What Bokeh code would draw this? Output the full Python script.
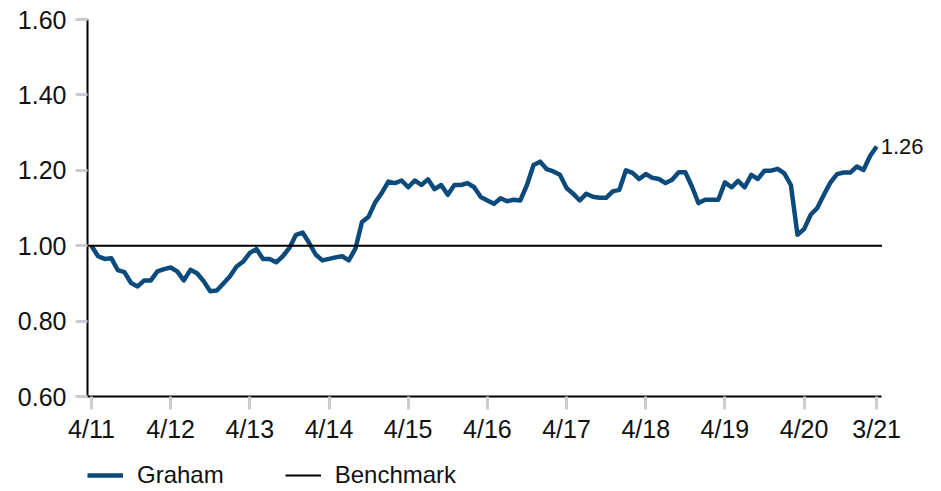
from bokeh.plotting import figure
from bokeh.layouts import column
from bokeh.models import (Range1d, FixedTicker, Legend, LegendItem, ColumnDataSource)
from bokeh.core.properties import value
from bokeh.embed import file_html
from bokeh.resources import INLINE

# ---- data ----
graham = [
    1.000, 0.972, 0.965, 0.967, 0.935, 0.930, 0.901, 0.892, 0.908, 0.908, 0.932, 0.938,
    0.942, 0.932, 0.908, 0.936, 0.927, 0.906, 0.879, 0.881, 0.900, 0.919, 0.945, 0.958,
    0.981, 0.991, 0.965, 0.965, 0.956, 0.972, 0.994, 1.029, 1.035, 1.007, 0.976, 0.961,
    0.965, 0.969, 0.972, 0.961, 0.992, 1.063, 1.077, 1.115, 1.140, 1.170, 1.166, 1.173,
    1.155, 1.173, 1.161, 1.176, 1.150, 1.161, 1.135, 1.161, 1.161, 1.166, 1.155, 1.129,
    1.120, 1.111, 1.126, 1.118, 1.122, 1.120, 1.161, 1.214, 1.223, 1.203, 1.197, 1.188,
    1.153, 1.138, 1.120, 1.138, 1.130, 1.127, 1.127, 1.144, 1.148, 1.200, 1.193, 1.177,
    1.190, 1.180, 1.177, 1.166, 1.175, 1.195, 1.195, 1.157, 1.113, 1.122, 1.122, 1.122,
    1.168, 1.155, 1.172, 1.155, 1.188, 1.177, 1.199, 1.199, 1.204, 1.192, 1.161, 1.029,
    1.044, 1.082, 1.100, 1.135, 1.168, 1.190, 1.194, 1.194, 1.210, 1.201, 1.238, 1.263,
]
months = list(range(len(graham)))
benchmark_value = 1.0
tick_labels = ["4/11", "4/12", "4/13", "4/14", "4/15", "4/16", "4/17", "4/18", "4/19", "4/20", "3/21"]
tick_months = [0, 12, 24, 36, 48, 60, 72, 84, 96, 108, 119]
y_ticks = [0.6, 0.8, 1.0, 1.2, 1.4, 1.6]
end_label = "1.26"
series_names = ["Graham", "Benchmark"]

FONT = "Liberation Sans"
BLUE = "#0c4a7b"
TICK_GRAY = "#c9cdd1"
TXT = "#111111"

x_start, x_axis_end, x_end = -0.6, 119.8, 126.4

p = figure(width=930, height=445, output_backend="svg", toolbar_location=None,
           x_range=Range1d(x_start, x_end), y_range=Range1d(0.6, 1.6),
           min_border_left=87, min_border_right=5, min_border_top=19, min_border_bottom=48)
p.grid.visible = False
p.outline_line_color = None
p.background_fill_color = "white"

src = ColumnDataSource(dict(x=months, y=graham))
r_g = p.line("x", "y", source=src, line_color=BLUE, line_width=4.5, line_join="round")
r_b = p.line([x_start, x_axis_end], [benchmark_value, benchmark_value],
             line_color="black", line_width=2)

# end value label
p.text(x=[months[-1]], y=[graham[-1]], text=[end_label], x_offset=4,
       text_font=value(FONT), text_font_size="22px", text_baseline="middle",
       text_color=TXT)

# axes
xa = p.xaxis[0]
xa.bounds = (x_start, x_axis_end)
xa.ticker = FixedTicker(ticks=tick_months)
xa.major_label_overrides = {m: l for m, l in zip(tick_months, tick_labels)}
xa.axis_line_color = "black"
xa.axis_line_width = 2
xa.major_tick_line_color = TICK_GRAY
xa.major_tick_line_width = 3
xa.major_tick_out = 13
xa.major_tick_in = 0
xa.minor_tick_line_color = None
xa.major_label_text_font = FONT
xa.major_label_text_font_size = "25px"
xa.major_label_text_color = TXT
xa.major_label_standoff = 5

ya = p.yaxis[0]
ya.ticker = FixedTicker(ticks=y_ticks)
ya.major_label_overrides = {t: f"{t:.2f}" for t in y_ticks}
ya.axis_line_color = "black"
ya.axis_line_width = 2
ya.major_tick_line_color = TICK_GRAY
ya.major_tick_line_width = 3
ya.major_tick_out = 12
ya.major_tick_in = 0
ya.minor_tick_line_color = None
ya.major_label_text_font = FONT
ya.major_label_text_font_size = "25px"
ya.major_label_text_color = TXT
ya.major_label_standoff = 9

# legend strip below the chart (dummy renderers kept outside the strip's ranges)
q = figure(width=930, height=45, output_backend="svg", toolbar_location=None,
           x_range=Range1d(0, 1), y_range=Range1d(0, 1),
           x_axis_location=None, y_axis_location=None,
           min_border_left=87, min_border_right=0, min_border_top=15, min_border_bottom=0)
q.grid.visible = False
q.outline_line_color = None
lg_g = q.line(x=[5, 6], y=[5, 5], line_color=BLUE, line_width=4.5)
lg_b = q.line(x=[5, 6], y=[5, 5], line_color="black", line_width=2)
legend = Legend(items=[LegendItem(label=series_names[0], renderers=[lg_g]),
                       LegendItem(label=series_names[1], renderers=[lg_b])],
                orientation="horizontal", location="left",
                margin=0, padding=0, spacing=61, glyph_width=36, glyph_height=30,
                label_standoff=14, border_line_color=None, background_fill_alpha=0,
                label_text_font=FONT, label_text_font_size="24px", label_text_color=TXT)
q.add_layout(legend, "center")

layout = column(p, q, spacing=0)
open("out.html", "w").write(file_html(layout, INLINE))
